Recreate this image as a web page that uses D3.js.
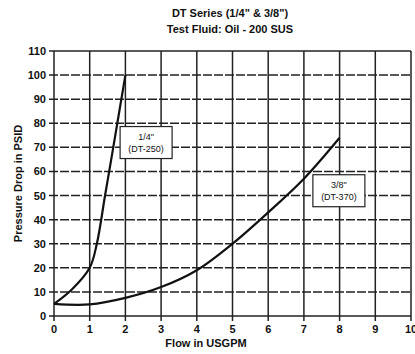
<!DOCTYPE html>
<html>
<head>
<meta charset="utf-8">
<script src="https://cdn.jsdelivr.net/npm/d3@7"></script>
<style>
body { margin: 0; background: #fff; }
text { font-family: "Liberation Sans", Arial, sans-serif; fill: #111; }
</style>
</head>
<body>
<div id="chart"></div>
<script>
var width = 415;
var height = 354;

// data
var xTicks = [0, 1, 2, 3, 4, 5, 6, 7, 8, 9, 10];
var yTicks = [0, 10, 20, 30, 40, 50, 60, 70, 80, 90, 100, 110];
var flow250 = [0, 0.5, 1, 1.2, 1.43, 1.66, 2];
var psid250 = [5, 11, 20, 30, 50, 70, 100];
var flow370 = [0, 1, 2, 3, 4, 5, 6, 7, 8];
var psid370 = [5, 4.8, 7.5, 12, 19, 30, 43, 57, 74];
var labels = [
    {lines: ["1/4\"", "(DT-250)"], x: 2.58, y: 72},
    {lines: ["3/8\"", "(DT-370)"], x: 7.98, y: 52}
];

var margin = {left: 54, right: 4, top: 51, bottom: 38};

var svg = d3.select("#chart").append("svg")
    .attr("width", width)
    .attr("height", height);

var xScale = d3.scaleLinear()
    .domain([0, 10])
    .range([margin.left, width - margin.right]);

var yScale = d3.scaleLinear()
    .domain([0, 110])
    .range([height - margin.bottom, margin.top]);

// grid
svg.selectAll(".vgrid")
    .data(xTicks)
    .enter().append("line")
        .attr("x1", function(d){return xScale(d);})
        .attr("x2", function(d){return xScale(d);})
        .attr("y1", yScale(110))
        .attr("y2", yScale(0) + 5)
        .attr("stroke", "#222")
        .attr("stroke-width", 1.5);

svg.selectAll(".hgrid")
    .data(yTicks)
    .enter().append("line")
        .attr("x1", xScale(0) - 5)
        .attr("x2", xScale(10))
        .attr("y1", function(d){return yScale(d);})
        .attr("y2", function(d){return yScale(d);})
        .attr("stroke", "#222")
        .attr("stroke-width", 1.5)
        .attr("stroke-dasharray", function(d){return (d == 0 || d == 110) ? null : "9,2";});

// tick labels
svg.selectAll(".ylab")
    .data(yTicks)
    .enter().append("text")
        .attr("x", xScale(0) - 8)
        .attr("y", function(d){return yScale(d) + 4;})
        .attr("text-anchor", "end")
        .attr("font-size", 11)
        .attr("font-weight", "bold")
        .text(function(d){return d;});

svg.selectAll(".xlab")
    .data(xTicks)
    .enter().append("text")
        .attr("x", function(d){return xScale(d);})
        .attr("y", yScale(0) + 17)
        .attr("text-anchor", "middle")
        .attr("font-size", 11)
        .attr("font-weight", "bold")
        .text(function(d){return d;});

// curves
var line = d3.line()
    .x(function(d){return xScale(d[0]);})
    .y(function(d){return yScale(d[1]);})
    .curve(d3.curveCatmullRom.alpha(0.5));

[[flow250, psid250], [flow370, psid370]].forEach(function(s){
    svg.append("path")
        .datum(d3.zip(s[0], s[1]))
        .attr("d", line)
        .attr("fill", "none")
        .attr("stroke", "#111")
        .attr("stroke-width", 2.2);
});

// series labels
labels.forEach(function(l){
    var cx = xScale(l.x), cy = yScale(l.y);
    svg.append("rect")
        .attr("x", cx - 26)
        .attr("y", cy - 16)
        .attr("width", 52)
        .attr("height", 32)
        .attr("fill", "#fff")
        .attr("stroke", "#222")
        .attr("stroke-width", 1.2);
    l.lines.forEach(function(t, i){
        svg.append("text")
            .attr("x", cx)
            .attr("y", cy - 3 + i * 12)
            .attr("text-anchor", "middle")
            .attr("font-size", 9)
            .text(t);
    });
});

// titles
svg.append("text")
    .attr("x", 230).attr("y", 17)
    .attr("text-anchor", "middle")
    .attr("font-size", 11).attr("font-weight", "bold")
    .text("DT Series (1/4\" & 3/8\")");
svg.append("text")
    .attr("x", 230).attr("y", 33)
    .attr("text-anchor", "middle")
    .attr("font-size", 11).attr("font-weight", "bold")
    .text("Test Fluid: Oil - 200 SUS");

svg.append("text")
    .attr("x", 206).attr("y", 347)
    .attr("text-anchor", "middle")
    .attr("font-size", 11).attr("font-weight", "bold")
    .text("Flow in USGPM");

svg.append("text")
    .attr("transform", "translate(22," + yScale(55) + ") rotate(-90)")
    .attr("text-anchor", "middle")
    .attr("font-size", 11).attr("font-weight", "bold")
    .text("Pressure Drop in PSID");
</script>
</body>
</html>
